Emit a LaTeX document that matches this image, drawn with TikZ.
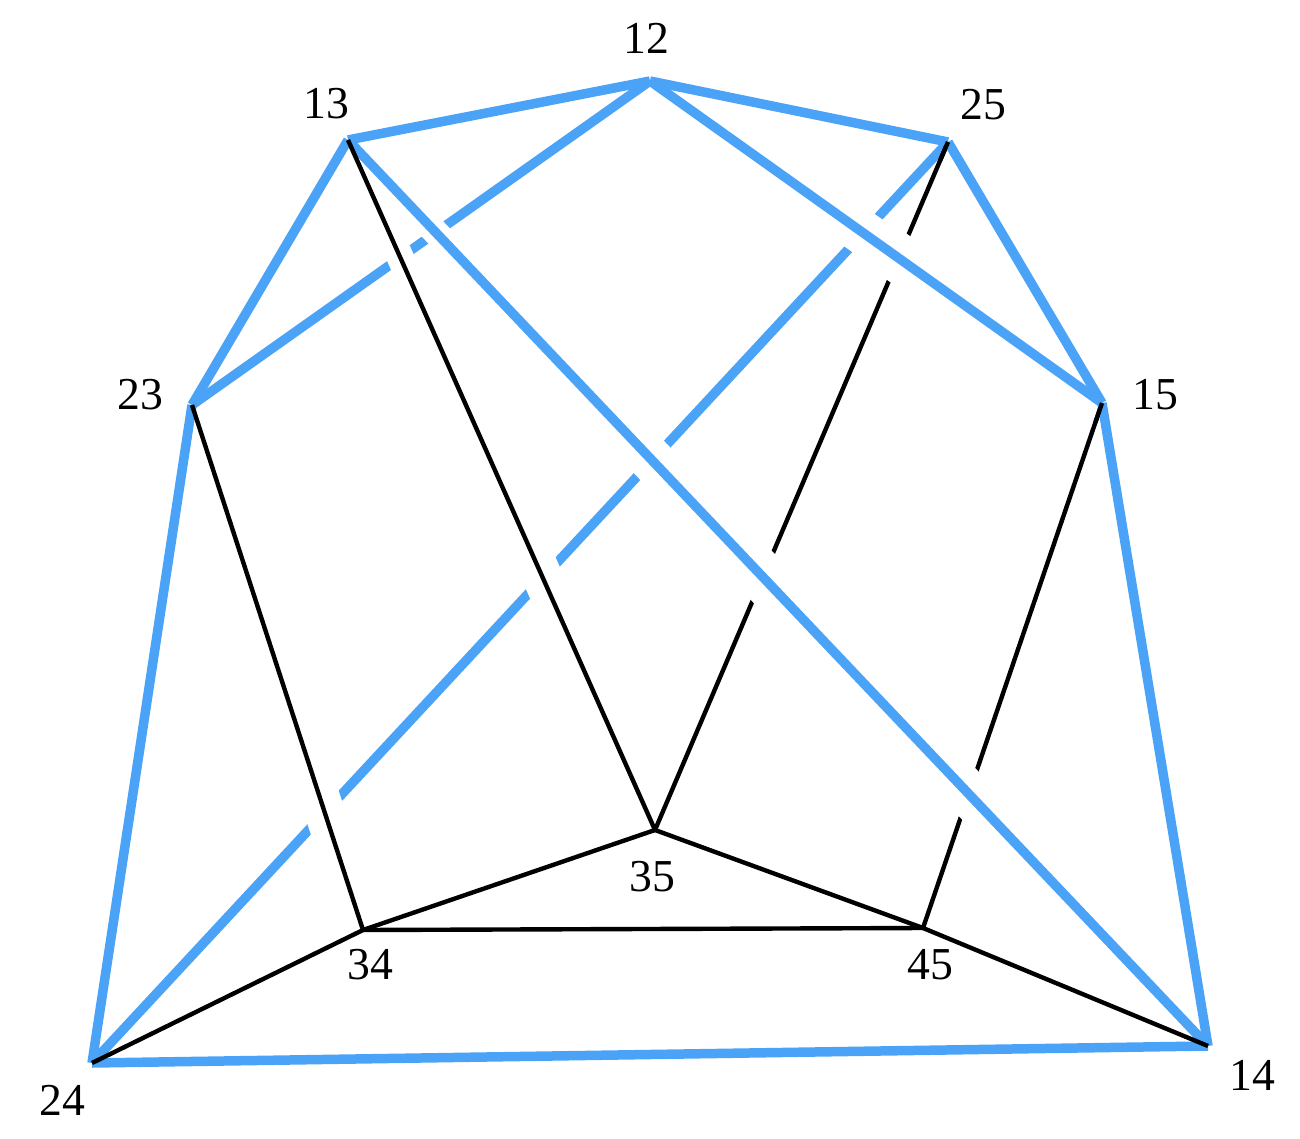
\documentclass[tikz,border=0pt]{standalone}
\usepackage{fontspec}
\setmainfont{Liberation Serif}
\usetikzlibrary{calc}
\definecolor{eblue}{RGB}{75,163,247}
\newcommand\gapat[4]{\draw[gapline=#4] ($(#1)!0.4cm!(#2)$) -- ($(#1)!0.4cm!(#3)$);}
\begin{document}
\begin{tikzpicture}[x=0.02cm,y=-0.02cm,
  blueedge/.style={draw=eblue,line width=0.19cm},
  blackedge/.style={draw=black,line width=0.088cm},
  gapline/.style={draw=white,line width=#1},
  lbl/.style={font=\fontsize{26}{30}\selectfont,inner sep=0pt}]
\useasboundingbox (0,0) rectangle (1300,1138);
% vertices
\coordinate (v12) at (650,81);
\coordinate (v13) at (348,140);
\coordinate (v25) at (948,142);
\coordinate (v23) at (192,405);
\coordinate (v15) at (1102,403);
\coordinate (v24) at (92,1063);
\coordinate (v34) at (363,930);
\coordinate (v35) at (655,830);
\coordinate (v45) at (923,928);
\coordinate (v14) at (1208,1046);
% crossings
\coordinate (c1) at (intersection of v12--v23 and v13--v35);
\coordinate (c2) at (intersection of v12--v23 and v13--v14);
\coordinate (c3) at (intersection of v25--v24 and v12--v15);
\coordinate (c4) at (intersection of v25--v24 and v13--v14);
\coordinate (c5) at (intersection of v25--v24 and v13--v35);
\coordinate (c6) at (intersection of v25--v24 and v23--v34);
\coordinate (c7) at (intersection of v25--v35 and v12--v15);
\coordinate (c8) at (intersection of v25--v35 and v13--v14);
\coordinate (c9) at (intersection of v15--v45 and v13--v14);
% lower edges
\draw[blueedge] (v12) -- (v23);
\draw[blueedge] (v25) -- (v24);
\draw[blackedge] (v25) -- (v35);
\draw[blackedge] (v15) -- (v45);
% gaps
\gapat{c1}{v13}{v35}{0.54cm}
\gapat{c2}{v13}{v14}{0.52cm}
\gapat{c3}{v12}{v15}{0.88cm}
\gapat{c4}{v13}{v14}{0.88cm}
\gapat{c5}{v13}{v35}{0.8cm}
\gapat{c6}{v23}{v34}{0.8cm}
\gapat{c7}{v12}{v15}{0.98cm}
\gapat{c8}{v13}{v14}{0.98cm}
\gapat{c9}{v13}{v14}{0.9cm}
% upper blue edges
\draw[blueedge] (v12) -- (v13);
\draw[blueedge] (v12) -- (v25);
\draw[blueedge] (v12) -- (v15);
\draw[blueedge] (v13) -- (v23);
\draw[blueedge] (v13) -- (v14);
\draw[blueedge] (v25) -- (v15);
\draw[blueedge] (v23) -- (v24);
\draw[blueedge] (v15) -- (v14);
\draw[blueedge] (v24) -- (v14);
% black edges
\draw[blackedge] (v13) -- (v35);
\draw[blackedge] (v23) -- (v34);
\draw[blackedge] (v34) -- (v35);
\draw[blackedge] (v35) -- (v45);
\draw[blackedge] (v34) -- (v45);
\draw[blackedge] (v34) -- (v24);
\draw[blackedge] (v45) -- (v14);
\draw[blackedge] (v25) -- ($(v25)!0.4cm!(v35)$);
\draw[blackedge] (v15) -- ($(v15)!0.4cm!(v45)$);
% labels
\node[lbl] (l12) at (646,38) {12};
\node[lbl] (l13) at (326,104) {13};
\node[lbl] (l25) at (983,105) {25};
\node[lbl] (l15) at (1155,395) {15};
\node[lbl] (l23) at (140,395) {23};
\node[lbl] (l24) at (62,1100) {24};
\node[lbl] (l34) at (370,965) {34};
\node[lbl] (l35) at (652,877) {35};
\node[lbl] (l45) at (930,965) {45};
\node[lbl] (l14) at (1252,1075) {14};
\end{tikzpicture}
\end{document}
